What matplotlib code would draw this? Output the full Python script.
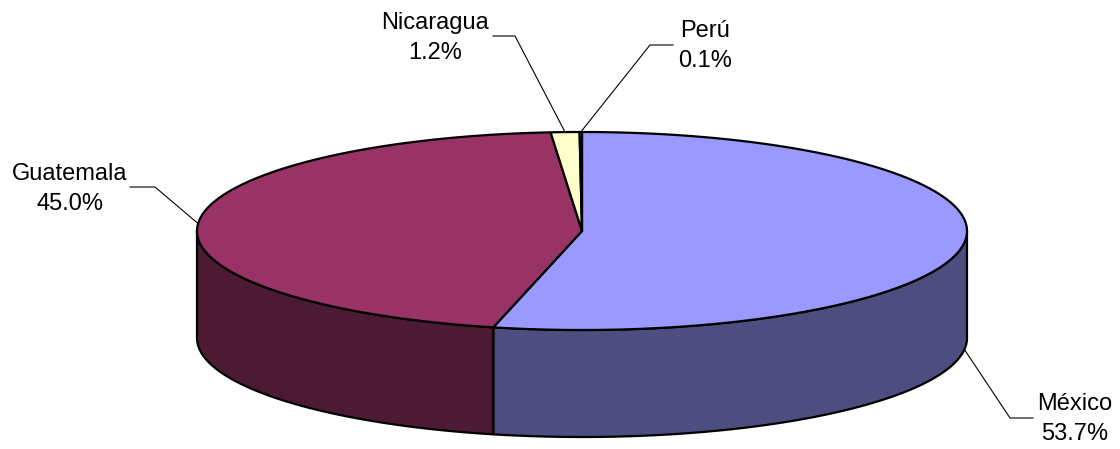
import numpy as np
import matplotlib.pyplot as plt
from matplotlib.patches import Polygon

plt.rcParams["font.family"] = ["Liberation Sans", "DejaVu Sans"]

labels = ["México", "Guatemala", "Nicaragua", "Perú"]
shares = [53.7, 45.0, 1.2, 0.1]
top_colors = ["#9999FF", "#993366", "#FFFFCC", "#CCFFFF"]
side_colors = ["#4D4D80", "#4D1A33", "#80806A", "#668080"]

# layout of the tilted pie, in pixels
CX, CY, RX, RY, DEPTH = 582, 231, 385, 99, 107

# label text centres and leader-line elbows / ends
text_pos = {"México": (1075, 419), "Guatemala": (70, 189), "Nicaragua": (435, 38), "Perú": (705, 46)}
elbow = {"México": [(1010, 418), (1033, 418)], "Guatemala": [(155, 187), (130, 187)],
         "Nicaragua": [(515, 36), (493, 36)], "Perú": [(650, 45), (673, 45)]}


def pt(theta, dz=0.0):
    t = np.radians(theta)
    return CX + RX * np.sin(t), CY - RY * np.cos(t) + dz


def arc(a, b, dz=0.0):
    th = np.linspace(a, b, max(int(abs(b - a)) * 2, 2))
    return [pt(t, dz) for t in th]


fig = plt.figure(figsize=(11.2, 4.49), dpi=100)
ax = fig.add_axes([0, 0, 1, 1])
ax.set_xlim(0, 1120)
ax.set_ylim(449, 0)
ax.axis("off")

total = sum(shares)
bounds = np.concatenate([[0], np.cumsum(shares) / total * 360])

# front walls
for i in range(len(shares)):
    lo, hi = max(bounds[i], 90), min(bounds[i + 1], 270)
    if lo < hi:
        poly = arc(lo, hi) + arc(lo, hi, DEPTH)[::-1]
        ax.add_patch(Polygon(poly, closed=True, facecolor=side_colors[i], edgecolor="black", lw=1.6, joinstyle="round"))

# top faces
for i in range(len(shares)):
    poly = [(CX, CY)] + arc(bounds[i], bounds[i + 1])
    ax.add_patch(Polygon(poly, closed=True, facecolor=top_colors[i], edgecolor="black", lw=1.6, joinstyle="round"))

# labels with leader lines
for i, name in enumerate(labels):
    mid = (bounds[i] + bounds[i + 1]) / 2
    dz = DEPTH if 90 < mid < 270 else 0
    x0, y0 = pt(mid, dz)
    xs = [x0] + [p[0] for p in elbow[name]]
    ys = [y0] + [p[1] for p in elbow[name]]
    ax.plot(xs, ys, color="black", lw=0.8)
    tx, ty = text_pos[name]
    ax.text(tx, ty, f"{name}\n{shares[i]:.1f}%", ha="center", va="center", fontsize=17, linespacing=1.5)

fig.savefig("out.png", dpi=100)
